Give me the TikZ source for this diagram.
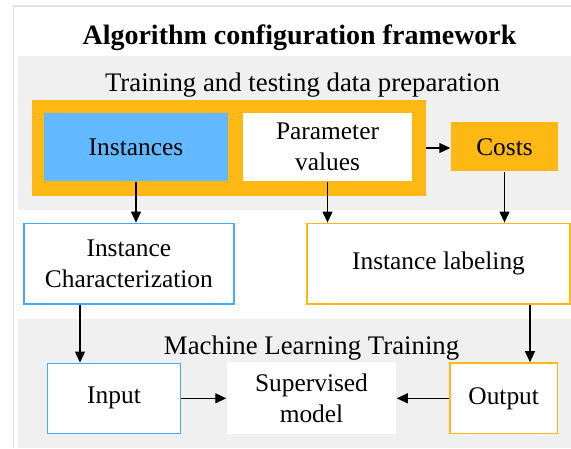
\documentclass[tikz,border=0pt]{standalone}
\usepackage{fontspec}
\setmainfont{Liberation Serif}
\usetikzlibrary{positioning, arrows.meta}
\definecolor{bandgray}{HTML}{F0F0F0}
\definecolor{framegray}{HTML}{E4E4E4}
\definecolor{amber}{HTML}{FDB813}
\definecolor{skyfill}{HTML}{62B9FF}
\definecolor{skyline}{HTML}{45AAF8}
\tikzset{>={Triangle[length=11pt,width=10pt]},
         arr/.style={->, line width=1.2pt},
         heading/.style={anchor=base, inner sep=0pt, font=\fontsize{26.8}{31}\selectfont},
         box/.style={fill=white, line width=1.5pt, inner sep=0pt, align=center,
                     font=\fontsize{25.4}{31}\selectfont},
         }

\begin{document}
\begin{tikzpicture}
    \useasboundingbox (0,0) rectangle (571pt,-448pt);
    % frame and bands
    \draw[framegray, line width=1.5pt] (13.5pt,-448pt) -- (13.5pt,-6pt) -- (571pt,-6pt);
    \fill[bandgray] (17.5pt,-56pt) rectangle (571pt,-210pt);
    \fill[bandgray] (17.5pt,-319pt) rectangle (571pt,-448pt);

    \node[heading, font=\bfseries\fontsize{28}{32}\selectfont] (title) at (299.5pt,-44pt) {Algorithm configuration framework};
    \node[heading] (prep) at (302.5pt,-91.7pt) {Training and testing data preparation};
    \node[heading] (mlt) at (311.6pt,-354.3pt) {Machine Learning Training};

    % data preparation
    \node[fill=amber, minimum width=394.3pt, minimum height=96pt] (pool) at (228.9pt,-148pt) {};
    \node[box, fill=skyfill, minimum width=184pt, minimum height=68.3pt] (inst) at (136pt,-146.9pt) {Instances};
    \node[box, minimum width=169pt, minimum height=68.3pt, right of=inst, node distance=191.5pt] (param) {Parameter\\values};
    \node[box, fill=amber, minimum width=107pt, minimum height=49pt, right of=param, node distance=177pt] (costs) {Costs};

    \node[box, draw=skyline, minimum width=210.3pt, minimum height=80.7pt] (ichar) at (128.9pt,-263.7pt) {Instance\\Characterization};
    \node[box, draw=amber, minimum width=263.4pt, minimum height=80.7pt] (label) at (438.5pt,-263.7pt) {Instance labeling};

    % learning
    \node[box, draw=skyline, minimum width=133.3pt, minimum height=70pt] (input) at (114pt,-398.3pt) {Input};
    \node[box, minimum width=169pt, minimum height=72pt, right of=input, node distance=197.5pt] (model) {Supervised\\model};
    \node[box, draw=amber, minimum width=107.5pt, minimum height=70.7pt, right of=model, node distance=192.2pt] (output) {Output};

    \coordinate (inlet) at ([xshift=-34pt]input.north);
    \coordinate (outlet) at ([xshift=26.3pt]output.north);

    \draw[arr] (pool.east) -- (pool.east -| costs.west);
    \draw[arr] (inst.south) -- (inst.south |- ichar.north);
    \draw[arr] (param.south) -- (param.south |- label.north);
    \draw[arr] (costs.south) -- (costs.south |- label.north);
    \draw[arr] (inlet |- ichar.south) -- (inlet);
    \draw[arr] (outlet |- label.south) -- (outlet);
    \draw[arr] (input.east) -- (model.west);
    \draw[arr] (output.west) -- (model.east);
\end{tikzpicture}
\end{document}
